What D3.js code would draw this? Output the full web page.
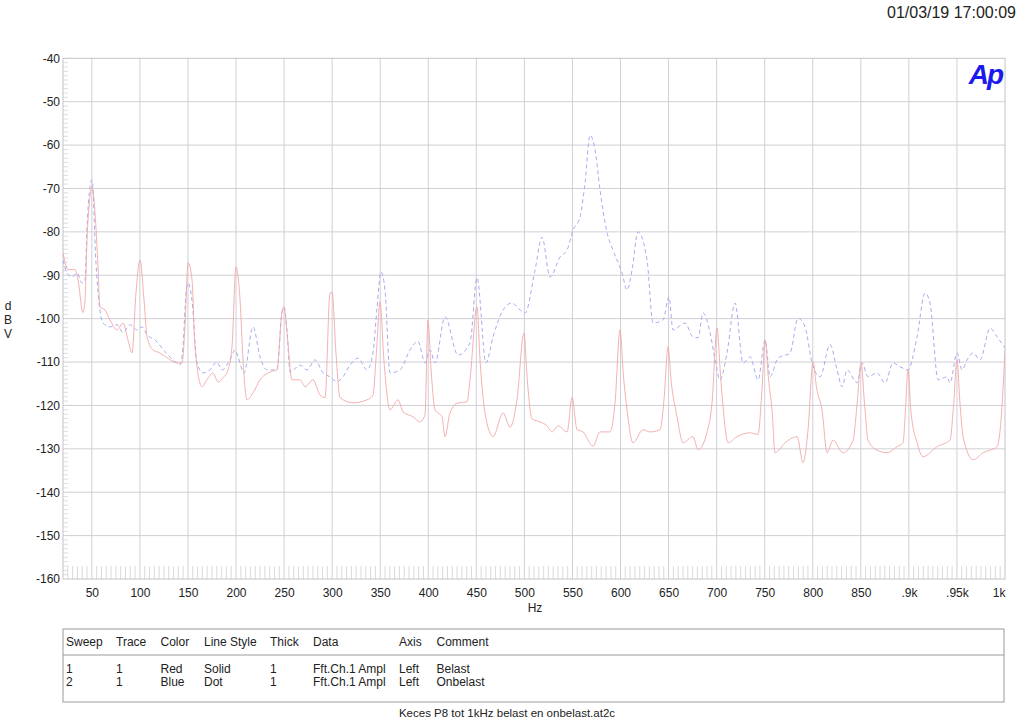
<!DOCTYPE html>
<html><head><meta charset="utf-8">
<script src="https://cdn.jsdelivr.net/npm/d3@7"></script>
<style>
body{margin:0;background:#fff;}
text{font-family:"Liberation Sans",Arial,Helvetica,sans-serif;}
</style></head>
<body>
<svg id="c" width="1024" height="724"></svg>
<script>
// ---- data ----
const xTickValues = [50,100,150,200,250,300,350,400,450,500,550,600,650,700,750,800,850,900,950,1000];
const xTickLabels = ["50","100","150","200","250","300","350","400","450","500","550","600","650","700","750","800","850",".9k",".95k","1k"];
const yTickValues = [-40,-50,-60,-70,-80,-90,-100,-110,-120,-130,-140,-150,-160];

// Sweep 1 : Belast (red, solid)  [Hz, dBV]
const belast = [
[20,-84.8],[25.2,-88.7],[32.5,-88.7],[35.6,-91.0],[40.8,-98.6],[42.9,-95.7],[45.0,-81.8],[48.1,-71.9],[50.2,-69.6],
[53.3,-75.6],[56.4,-88.1],[58.5,-97.3],[63.7,-98.0],[68.9,-100.3],[76.2,-102.6],[82.4,-101.0],[87.6,-104.9],[91.8,-107.9],
[95.9,-94.1],[100.1,-86.5],[104.3,-95.7],[107.4,-104.2],[113.6,-107.2],[120.9,-107.9],[128.2,-109.0],[138.6,-110.2],
[143.8,-110.2],[146.9,-101.9],[150.1,-87.1],[154.2,-91.0],[157.3,-106.5],[164.6,-115.7],[169.8,-114.1],[176.1,-112.5],
[181.3,-114.6],[186.5,-113.6],[191.7,-111.8],[195.8,-106.5],[200,-88.1],[204.2,-95.7],[207.3,-109.5],[211.4,-118.7],
[217.7,-117.1],[225,-114.1],[235.4,-112.3],[242.6,-111.8],[247.8,-98.6],[249.9,-97.3],[253.0,-103.2],[258.3,-114.1],
[266.6,-114.1],[271.8,-115.7],[280.1,-114.1],[287.4,-117.6],[292.6,-118.2],[297.8,-94.1],[299.9,-93.9],[304,-108],
[308.2,-118.2],[321.7,-119.4],[336.3,-118.7],[342.5,-117.6],[346,-108],[349.8,-96.1],[354,-110],[360.2,-121.0],
[368.5,-118.7],[373.7,-121.5],[384.1,-122.6],[391.4,-123.8],[396.6,-122.2],[399.7,-100.3],[403,-112],[407.0,-121.0],
[414.3,-122.6],[417.4,-127.2],[422.6,-121.7],[431,-119.4],[440.3,-119.2],[443.4,-114.1],[450.7,-97.3],[454,-110],
[459,-121.7],[467.4,-127.2],[477.8,-121.7],[485.1,-125],[492.3,-118.7],[499.6,-103.3],[503,-114],[507.9,-123.1],
[516.3,-123.8],[523.6,-124.7],[528.8,-126.1],[535.0,-124.7],[544.4,-126.1],[549.6,-118.2],[554.8,-125.6],[561.0,-126.1],
[571.4,-129.4],[578.7,-126.1],[589.1,-126.1],[594.3,-119.4],[599.5,-102.6],[603,-113],[606.8,-121.0],[613.0,-128.6],
[623.4,-125.6],[630.7,-126.1],[641.1,-125.6],[645.5,-118],[649.4,-106.5],[653,-115],[658.8,-122.6],[665.0,-128.6],
[675.4,-127.2],[680.7,-130.2],[690.0,-126.2],[695.2,-119.4],[700.4,-102.2],[704,-113],[706.7,-120.3],[711.9,-128.6],
[721.2,-127.2],[734.8,-126.3],[743.1,-126.7],[747,-117],[750.4,-104.9],[754,-114],[757.6,-121.0],[760.8,-130.9],
[771.2,-128.6],[783.7,-127.2],[789.9,-133.2],[795.1,-125.6],[800.3,-109.9],[804,-116],[809.6,-121.0],[814.9,-130.9],
[821.1,-128.0],[831.5,-130.9],[841.9,-128.0],[846,-120],[850.2,-110.2],[854,-120],[857.5,-128.0],[866.9,-130.3],
[877.3,-130.9],[887.7,-129.5],[893.9,-128.6],[896.5,-121],[899.1,-111.8],[902,-121],[908.5,-128.6],[914.7,-131.8],
[929.3,-129.5],[942.8,-128.0],[946.5,-120],[950.1,-109.5],[953,-119],[956.4,-127.2],[966.8,-132.5],[977.2,-130.9],
[991.8,-129.5],[995.9,-123.3],[1000,-107.2]
];

// Sweep 2 : Onbelast (blue, dot)  [Hz, dBV]
const onbelast = [
[20,-86.5],[24.2,-89.5],[29.4,-90.4],[34.6,-89.5],[39.8,-91.8],[42.9,-91.1],[45.0,-78.9],[48.1,-69.6],[50.2,-68.0],
[54.3,-87.2],[57.5,-96.4],[61.6,-101.0],[68.9,-101.9],[76.2,-101.4],[82.4,-103.2],[89.7,-101.4],[97.0,-102.6],
[102.2,-101.9],[107.4,-103.7],[115.7,-104.9],[126.1,-107.6],[134.4,-109.5],[141.7,-110.6],[144.8,-106.5],[148.0,-94.1],
[150.1,-91.8],[154.2,-95.7],[159.4,-110.2],[165.7,-112.5],[172.9,-111.8],[180.2,-110.0],[185.4,-111.8],[193.7,-109.5],
[199.0,-107.2],[202.1,-108.8],[208.3,-112.5],[217.7,-101.9],[225.0,-108.8],[232.2,-111.8],[242.6,-111.8],[247.8,-98.6],
[249.9,-97.3],[253.0,-102.6],[256.2,-112.3],[266.6,-110.7],[273.9,-111.8],[282.2,-109.5],[290.5,-112.5],[297.8,-113.4],
[305.1,-114.5],[311.3,-113.4],[318.6,-110.7],[326.9,-109.1],[336.3,-111.8],[342.5,-107.9],[346.7,-97.5],[350.8,-89.2],
[355.0,-93.4],[360.2,-112.5],[370.6,-111.8],[381.0,-107.2],[389.3,-105.2],[396.6,-110.2],[401.8,-107.2],[407.0,-110.2],
[417.4,-99.6],[431.0,-108.4],[443.4,-105.6],[450.7,-90.6],[460.1,-110.2],[467.4,-104.2],[477.8,-98.0],[487.1,-96.4],
[495.5,-98.0],[500.7,-98.7],[511.1,-88.8],[518.4,-81.2],[526.7,-90.4],[537.1,-85.8],[544.4,-84.2],[550.6,-79.6],
[557.9,-76.6],[563.1,-68.7],[568.3,-57.7],[573.5,-61.1],[578.7,-70.3],[586.0,-80.2],[592.2,-84.2],[601.6,-89.5],
[606.8,-93.4],[612.0,-88.8],[618.2,-80.0],[627.6,-86.5],[633.8,-101.0],[644.2,-100.3],[650.5,-95.0],[654.6,-102.6],
[667.1,-101.0],[675.4,-104.2],[680.7,-104.4],[685.9,-98.7],[693.2,-103.3],[698.4,-109.5],[703.5,-114.1],[710.8,-107.9],
[719.1,-96.4],[727.5,-110.2],[734.8,-108.8],[743.1,-114.1],[750.4,-104.9],[755.6,-113.4],[763.9,-109.1],[776.4,-107.9],
[784.7,-99.9],[792.0,-101.9],[799.3,-110.2],[807.6,-113.4],[818,-106.0],[825.3,-111.8],[830.5,-115.7],[835.7,-111.8],
[846.1,-114.8],[851.3,-110.2],[857.5,-113.4],[866.9,-112.5],[875.2,-114.8],[883.5,-110.2],[890.8,-111.1],[899.1,-111.8],
[908.5,-104.2],[916.8,-94.1],[922.0,-96.4],[930.4,-114.1],[939.7,-113.4],[942.8,-114.8],[950.1,-107.9],[955.3,-111.8],
[960.6,-109.5],[966.8,-107.9],[974.1,-109.5],[984.5,-102.2],[991.8,-104.2],[1000,-106.8]
];

const legendHeader = ["Sweep","Trace","Color","Line Style","Thick","Data","Axis","Comment"];
const legendRows = [
  ["1","1","Red","Solid","1","Fft.Ch.1 Ampl","Left","Belast"],
  ["2","1","Blue","Dot","1","Fft.Ch.1 Ampl","Left","Onbelast"]
];
const dateText = "01/03/19 17:00:09";
const captionText = "Keces P8 tot 1kHz belast en onbelast.at2c";

// ---- drawing ----
const svg = d3.select("#c");
const L = 63, R = 1005, T = 58.3, B = 579;
const x = d3.scaleLinear().domain([20,1000]).range([L,R]);
const y = d3.scaleLinear().domain([-160,-40]).range([B,T]);

const gridCol = "#cfcfd6";
// minor ticks left (every 1 dB)
const yMinor = d3.range(-160,-39,1).filter(v=>v%10!==0);
svg.append("g").selectAll("line").data(yMinor).join("line")
  .attr("x1",L).attr("x2",L+5).attr("y1",d=>y(d)).attr("y2",d=>y(d))
  .attr("stroke","#d6d6dc").attr("stroke-width",0.8);
// minor ticks bottom (every 5 Hz)
const xMinor = d3.range(25,1000,5).filter(v=>v%50!==0);
svg.append("g").selectAll("line").data(xMinor).join("line")
  .attr("x1",d=>x(d)).attr("x2",d=>x(d)).attr("y1",B).attr("y2",B-13)
  .attr("stroke","#d0d0d6").attr("stroke-width",0.8);

// grid
svg.append("g").selectAll("line").data(xTickValues.slice(0,-1)).join("line")
  .attr("x1",d=>x(d)).attr("x2",d=>x(d)).attr("y1",T).attr("y2",B)
  .attr("stroke",gridCol).attr("stroke-width",1);
svg.append("g").selectAll("line").data(yTickValues.slice(1,-1)).join("line")
  .attr("x1",L).attr("x2",R).attr("y1",d=>y(d)).attr("y2",d=>y(d))
  .attr("stroke",gridCol).attr("stroke-width",1);
svg.append("rect").attr("x",L).attr("y",T).attr("width",R-L).attr("height",B-T)
  .attr("fill","none").attr("stroke","#c4c4c8").attr("stroke-width",1);

// axes labels via d3 axes
const yAxis = d3.axisLeft(y).tickValues(yTickValues).tickSize(0).tickPadding(3).tickFormat(d=>String(d));
const gy = svg.append("g").attr("transform",`translate(${L},0)`).call(yAxis);
gy.select(".domain").remove();
gy.selectAll("text").attr("font-size",12).attr("fill","#222").style("font-family","Liberation Sans, Arial, sans-serif");

const xAxis = d3.axisBottom(x).tickValues(xTickValues).tickSize(0).tickPadding(9)
  .tickFormat((d,i)=>xTickLabels[i]);
const gx = svg.append("g").attr("transform",`translate(0,${B})`).call(xAxis);
gx.select(".domain").remove();
gx.selectAll("text").attr("font-size",12).attr("fill","#222").style("font-family","Liberation Sans, Arial, sans-serif");
gx.selectAll(".tick").filter(d=>d===1000).select("text").attr("text-anchor","end").attr("dx",0);

// axis titles
svg.append("text").attr("x",535).attr("y",612).attr("text-anchor","middle").attr("font-size",12).attr("fill","#222").text("Hz");
["d","B","V"].forEach((c,i)=>{
  svg.append("text").attr("x",8).attr("y",310+i*14).attr("text-anchor","middle").attr("font-size",12).attr("fill","#222").text(c);
});

// traces
const line = d3.line().x(d=>x(d[0])).y(d=>y(d[1])).curve(d3.curveMonotoneX);
svg.append("clipPath").attr("id","pc").append("rect").attr("x",L).attr("y",T).attr("width",R-L).attr("height",B-T);
svg.append("path").datum(onbelast).attr("d",line).attr("fill","none")
  .attr("stroke","#a7abf0").attr("stroke-width",1).attr("stroke-dasharray","4,3").attr("clip-path","url(#pc)");
svg.append("path").datum(belast).attr("d",line).attr("fill","none")
  .attr("stroke","#f2a8a8").attr("stroke-width",0.9).attr("clip-path","url(#pc)");

// date and logo
svg.append("text").attr("x",1016).attr("y",18).attr("text-anchor","end").attr("font-size",16).attr("fill","#222").text(dateText);
svg.append("text").attr("x",1002).attr("y",84).attr("text-anchor","end").attr("font-size",28)
  .attr("font-weight","bold").attr("font-style","italic").attr("fill","#1a1aee").attr("letter-spacing",-2).text("Ap");

// legend table
const tL = 63, tR = 1004, tT = 629, tM = 655, tB = 702;
svg.append("rect").attr("x",tL).attr("y",tT).attr("width",tR-tL).attr("height",tB-tT)
  .attr("fill","none").attr("stroke","#9a9a9a").attr("stroke-width",1);
svg.append("line").attr("x1",tL).attr("x2",tR).attr("y1",tM).attr("y2",tM).attr("stroke","#9a9a9a");
const colX = [66,116,160.5,204,270,313,399,436.5];
legendHeader.forEach((h,i)=>{
  svg.append("text").attr("x",colX[i]).attr("y",646).attr("font-size",12).attr("fill","#222").text(h);
});
legendRows.forEach((row,r)=>{
  row.forEach((c,i)=>{
    svg.append("text").attr("x",colX[i]).attr("y",673+r*13).attr("font-size",12).attr("fill","#222").text(c);
  });
});
svg.append("text").attr("x",507).attr("y",717).attr("text-anchor","middle").attr("font-size",11.5).attr("fill","#222").text(captionText);
</script>
</body></html>
